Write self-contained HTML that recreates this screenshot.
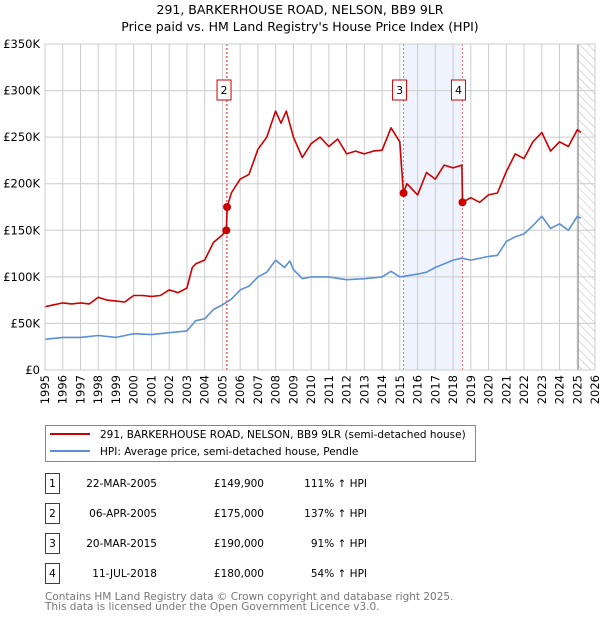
<!DOCTYPE html>
<html><head><meta charset="utf-8"><style>
body{margin:0;background:#fff;font-family:"Liberation Sans","DejaVu Sans",sans-serif;}
svg text{font-family:"DejaVu Sans","Liberation Sans",sans-serif;}
</style></head><body>
<svg id="c" width="600" height="620" viewBox="0 0 600 620" xmlns="http://www.w3.org/2000/svg">
<defs><pattern id="hatch" width="6" height="6" patternUnits="userSpaceOnUse" patternTransform="rotate(-45)"><line x1="0" y1="0" x2="0" y2="6" stroke="#bbb" stroke-width="1"/></pattern></defs>
<text x="300" y="14" text-anchor="middle" font-size="12.5">291, BARKERHOUSE ROAD, NELSON, BB9 9LR</text>
<text x="300" y="31" text-anchor="middle" font-size="12.5">Price paid vs. HM Land Registry's House Price Index (HPI)</text>
<g id="plot"></g>
<g>
<rect x="45.5" y="425.5" width="430" height="36" fill="#fff" stroke="#888"/>
<line x1="50" y1="434" x2="90" y2="434" stroke="#cc0000" stroke-width="2"/>
<text x="100" y="438" font-size="10.5">291, BARKERHOUSE ROAD, NELSON, BB9 9LR (semi-detached house)</text>
<line x1="50" y1="451" x2="90" y2="451" stroke="#5b8fd6" stroke-width="2"/>
<text x="100" y="455" font-size="10.5">HPI: Average price, semi-detached house, Pendle</text>
</g>
<g id="table" font-size="10.5"></g>
<text x="45" y="600" font-size="10.5" fill="#777">Contains HM Land Registry data © Crown copyright and database right 2025.</text>
<text x="45" y="610" font-size="10.5" fill="#777">This data is licensed under the Open Government Licence v3.0.</text>
</svg>
<script>
const redYears=[1995,1995.5,1996,1996.5,1997,1997.5,1998,1998.5,1999,1999.5,2000,2000.5,2001,2001.5,2002,2002.5,2003,2003.3,2003.5,2004,2004.5,2005,2005.22,2005.27,2005.5,2006,2006.5,2007,2007.5,2008,2008.3,2008.6,2009,2009.5,2010,2010.5,2011,2011.5,2012,2012.5,2013,2013.5,2014,2014.5,2015,2015.2,2015.4,2016,2016.5,2017,2017.5,2018,2018.5,2018.53,2019,2019.5,2020,2020.5,2021,2021.5,2022,2022.5,2023,2023.5,2024,2024.5,2025,2025.2];
const redValues=[68,70,72,71,72,71,78,75,74,73,80,80,79,80,86,83,88,110,114,118,137,145,150,175,190,205,210,237,250,278,265,278,250,228,243,250,240,248,232,235,232,235,236,260,245,190,200,188,212,205,220,217,220,180,185,180,188,190,213,232,227,245,255,235,245,240,258,255];
const blueYears=[1995,1996,1997,1998,1999,2000,2001,2002,2003,2003.5,2004,2004.5,2005,2005.5,2006,2006.5,2007,2007.5,2008,2008.5,2008.8,2009,2009.5,2010,2011,2012,2013,2014,2014.5,2015,2016,2016.5,2017,2018,2018.5,2019,2020,2020.5,2021,2021.5,2022,2022.5,2023,2023.5,2024,2024.5,2025,2025.2];
const blueValues=[33,35,35,37,35,39,38,40,42,53,55,65,70,76,86,90,100,105,118,110,117,108,98,100,100,97,98,100,106,100,103,105,110,118,120,118,122,123,138,143,146,155,165,152,157,150,165,163];
const saleLabels=["1","2","3","4"];
const saleYears=[2005.22,2005.26,2015.21,2018.53];
const saleValues=[149.9,175,190,180];
const saleDates=["22-MAR-2005","06-APR-2005","20-MAR-2015","11-JUL-2018"];
const salePrices=["£149,900","£175,000","£190,000","£180,000"];
const saleHpi=["111% ↑ HPI","137% ↑ HPI","91% ↑ HPI","54% ↑ HPI"];
const yTicks=[0,50,100,150,200,250,300,350];
const yTickLabels=["£0","£50K","£100K","£150K","£200K","£250K","£300K","£350K"];
const xTicks=[1995,1996,1997,1998,1999,2000,2001,2002,2003,2004,2005,2006,2007,2008,2009,2010,2011,2012,2013,2014,2015,2016,2017,2018,2019,2020,2021,2022,2023,2024,2025,2026];

const NS="http://www.w3.org/2000/svg";
const X0=45,X1=595,Y0=370,Y1=44;
const xs=y=>X0+(y-1995)*(X1-X0)/31;
const ys=v=>Y0-v*(Y0-Y1)/350;
const plot=document.getElementById('plot');
function mk(t,a,p){const e=document.createElementNS(NS,t);for(const k in a)e.setAttribute(k,a[k]);(p||plot).appendChild(e);return e;}
let sh=mk('rect',{x:xs(saleYears[2]),y:Y1,width:xs(saleYears[3])-xs(saleYears[2]),height:Y0-Y1,fill:'#eef3fd'});


let ht=mk('rect',{x:xs(2025.05),y:Y1,width:X1-xs(2025.05),height:Y0-Y1,fill:'url(#hatch)'});


yTicks.forEach((v,i)=>{
 const l=mk('line',{x1:X0,x2:X1,y1:ys(v),y2:ys(v),stroke:'#ccc'});
 
 
 const t=mk('text',{x:40,y:ys(v)+4,'text-anchor':'end','font-size':'11.5'});t.textContent=yTickLabels[i];
 
 
});
xTicks.forEach(yr=>{
 const l=mk('line',{x1:xs(yr),x2:xs(yr),y1:Y1,y2:Y0,stroke:'#ccc'});
 
 
 const t=mk('text',{x:0,y:0,'font-size':'11.5','text-anchor':'end',transform:`translate(${xs(yr)+4},375) rotate(-90)`});t.textContent=yr;
 
 
});
mk('line',{x1:xs(2025.05),x2:xs(2025.05),y1:Y1,y2:Y0,stroke:'#888'});
saleYears.forEach((yr,i)=>{
 const l=mk('line',{x1:xs(yr),x2:xs(yr),y1:Y1,y2:Y0,stroke:'#f07070','stroke-dasharray':'2,2','stroke-width':i==1?1.3:1});
 
 
});
function line(xa,va,col,name){
 const p=mk('polyline',{points:xa.map((x,i)=>xs(x).toFixed(1)+','+ys(va[i]).toFixed(1)).join(' '),fill:'none',stroke:col,'stroke-width':1.6,'stroke-linejoin':'round'});
 
 
}
line(blueYears,blueValues,'#5b8fd6','hpi-line');
line(redYears,redValues,'#cc0000','property-price-line');
saleYears.forEach((yr,i)=>{
 const c=mk('circle',{cx:xs(yr),cy:ys(saleValues[i]),r:4,fill:'#cc0000'});
 
 
 if(i==0)return;
 const bx=xs(yr)-(i==1?3:4);
 const g=mk('g',{});
 
 
 mk('rect',{x:bx-7,y:80,width:14,height:20,fill:'#fff',stroke:'#cc0000'},g);
 const t=mk('text',{x:bx,y:94,'text-anchor':'middle','font-size':'11'},g);t.textContent=saleLabels[i];
});
mk('rect',{x:X0,y:Y1,width:X1-X0,height:Y0-Y1,fill:'none',stroke:'#ccc'});
const tb=document.getElementById('table');
saleLabels.forEach((s,i)=>{
 const y=483+i*30;
 const g=mk('g',{},tb);
 
 
 mk('rect',{x:45.5,y:y-9.5,width:14,height:20,fill:'#fff',stroke:'#cc0000'},g);
 let t=mk('text',{x:52.5,y:y+4,'text-anchor':'middle'},g);t.textContent=s;
 t=mk('text',{x:157,y:y+4,'text-anchor':'end'},g);t.textContent=saleDates[i];
 t=mk('text',{x:264,y:y+4,'text-anchor':'end'},g);t.textContent=salePrices[i];
 t=mk('text',{x:367,y:y+4,'text-anchor':'end'},g);t.textContent=saleHpi[i];
});
</script>
</body></html>
